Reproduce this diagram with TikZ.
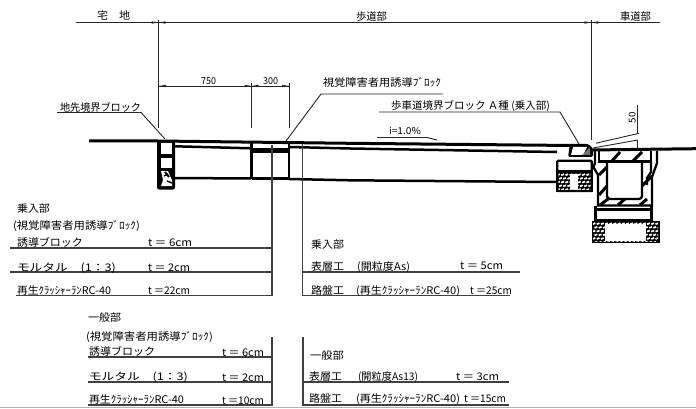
\documentclass[tikz,border=0pt]{standalone}
\usepackage{fontspec}
\usepackage{graphicx}
\setmainfont{Noto Sans CJK JP}
\newcommand{\fitw}[2]{\resizebox{#1pt}{\height}{#2}}
\newcommand{\brickfill}[4]{%
  \fill[black] (#1,#2) rectangle (#3,#4);
  \begin{scope}
  \clip (#1+1.5,#2+1.5) rectangle (#3-1.5,#4-1.5);
  \foreach \yy in {0,1,2,3,4,5}{
    \foreach \xx in {0,1,...,17}{
      \draw[white,line width=1.7pt] ({#1+1+\xx*4.2+mod(\yy,2)*2},{#2+3.2+\yy*3.7}) -- ++(2.8,-1);
    }}
  \end{scope}}
\tikzset{
  x=1pt,y=-1pt,
  thin line/.style={draw=black!85,line width=0.9pt},
  rule line/.style={draw=black!75,line width=1.1pt},
  thick line/.style={draw=black,line width=2.5pt},
  heavy line/.style={draw=black,line width=3pt},
  wall line/.style={draw=black,line width=2.3pt},
  stripe line/.style={draw=black,line width=3pt},
  lbl/.style={anchor=base west,inner sep=0pt,outer sep=0pt,text=black,font=\fontsize{10.5pt}{11pt}\selectfont},
  sml/.style={lbl,font=\fontsize{9.5pt}{10pt}\selectfont},
}
\begin{document}
\begin{tikzpicture}
\useasboundingbox (0,0) rectangle (696,409);
\fill[white] (0,0) rectangle (696,409);

% bottom page edge
\draw[draw=black!30,line width=1pt] (0,407.7) -- (696,407.7);

% top dimension line
\draw[thin line] (76,22.5) -- (660,22.5);
\draw[thin line] (158.5,20) -- (158.5,128);
\draw[thin line] (591.3,20) -- (591.3,140);
\node[lbl] (takuchi) at (97,20) {\fitw{33}{宅\hspace{1em}地}};
\node[lbl] (hodo) at (356,21) {\fitw{31}{歩道部}};
\node[lbl] (shado) at (620,21) {\fitw{31}{車道部}};

% 750 / 300 dimensions
\draw[thin line] (159,86) -- (289,86);
\draw[thin line] (251.5,83) -- (251.5,128);
\draw[thin line] (289,83) -- (289,128);
\node[sml] (d750) at (201,85) {\fitw{15}{750}};
\node[sml] (d300) at (263,85) {\fitw{15}{300}};

% small dimension arrowheads (tip x, y, direction)
\foreach \tx/\ty/\dd in {158.5/22.5/-1, 158.5/22.5/1, 591.3/22.5/-1, 591.3/22.5/1,
                         159/86/1, 251.5/86/-1, 251.5/86/1, 289/86/-1}{
  \fill[black!85] (\tx,\ty) -- (\tx+\dd*7,\ty-1.2) -- (\tx+\dd*7,\ty+1.2) -- cycle;
}

% leaders
\draw[thin line] (57,112.5) -- (141,112.5) -- (165,139);
\node[lbl] (jisaki) at (60,111) {\fitw{81}{地先境界ブロック}};
\draw[thin line] (286,141) -- (321,94) -- (443,94);
\node[lbl] (shikaku) at (323,87) {\fitw{118}{視覚障害者用誘導ﾌﾞﾛｯｸ}};
\draw[thin line] (379,112) -- (560,112) -- (579,144);
\node[lbl] (kyokai) at (391,110) {\fitw{159}{歩車道境界ブロック Ａ種 (乗入部)}};
\draw[thin line] (377,137.5) -- (427,137.5) -- (437,140);
\node[sml] (slope) at (389,135) {\fitw{32}{i=1.0\%}};

% pavement lines
\draw[heavy line] (89,141) -- (158,141) -- (350,143.3) -- (572,145.5);
\draw[thick line] (175,146.3) -- (251,148.3);
\draw[thick line] (289,147) -- (350,148.5) -- (557,152);
\draw[thick line] (175,178) -- (251,178.5);
\draw[thick line] (289,179) -- (350,180.3) -- (556,182);
\draw[heavy line] (590,150) -- (696,148.7);

% boundary block (left)
\fill[black,rounded corners=2pt] (157,141) rectangle (175,189.5);
\fill[white] (161,143.5) rectangle (172,154);
\fill[white] (161,158.5) rectangle (172,168);
\fill[white] (161,171) -- (168,171) -- (170,176) -- (172,180) -- (172,186) -- (161,186) -- (163,180) -- cycle;
\draw[black,line width=2pt] (165,172) -- (169,177);
\draw[black,line width=1.4pt] (164,176) -- (168,174);
\draw[black,line width=1.4pt] (167,181) -- (172,183);

% guide block column
\draw[thick line] (251.5,141.5) -- (251.5,179);
\draw[thick line] (289,141.5) -- (289,179);
\draw[thick line] (251.5,178.7) -- (289,178.7);
\fill[black] (251,148) rectangle (289,153.5);

% table rule verticals
\draw[rule line] (272,145) -- (272,295.8);
\draw[rule line] (302.7,144) -- (302.7,295.5);

% curb
\fill[black,rounded corners=2pt] (570,144) -- (589,144) -- (593,149) -- (593,157) -- (568,157) -- cycle;
\fill[white] (573,147) -- (587,147) -- (583,155) -- (571,155) -- cycle;
\fill[black!55] (582,155) -- (589,148) -- (590,149) -- (590,155) -- cycle;
% curb base
\brickfill{556}{172}{593}{192}
\fill[white] (570,174) rectangle (578,190);
\draw[wall line,rounded corners=1pt] (557.2,160.7) rectangle (591.8,191);
\draw[wall line] (557,171.5) -- (592,171.5);

% culvert
\draw[wall line] (595,151) -- (595,163) -- (593.5,167) -- (598,175) -- (598,205.5) -- (652,205.5) -- (652,177) -- (657,163) -- (657,151);
\draw[wall line] (599,151) -- (599,161.5) -- (651,161.5) -- (651,151);
\draw[wall line,rounded corners=3pt] (607,161.5) -- (607,199) -- (642,199) -- (642,161.5);
\draw[wall line] (651,161.5) -- (651,172) -- (647,178) -- (647,185);
\foreach \a/\b/\c/\d in {
  612/161/620/152, 633/161/642/152,
  599/175/607/167, 599/195/607/186,
  600/205/608/199, 618/205/625/199, 640/205/647/199,
  642/186/652/176}{
  \draw[stripe line] (\a,\b) -- (\c,\d);
}
% base slab
\draw[wall line] (595.5,206) -- (595.5,220.5) -- (651.5,220.5) -- (651.5,206);
\draw[wall line] (595.5,209.5) -- (651.5,209.5);
% foundation
\brickfill{591.5}{221}{659.5}{243}
\fill[white] (605,223.5) rectangle (645.5,240.5);

% 50 dimension
\draw[thin line] (596,143.2) -- (639,133.3);
\draw[thin line] (593,148) -- (638,140);
\draw[thin line] (637,105) -- (637,134);
\draw[thin line] (637,140) -- (637,150);
\node[sml,rotate=90] (d50) at (635.5,123.5) {\fitw{11}{50}};

% table 1 (left upper)
\draw[rule line] (10,248) -- (272,248);
\draw[rule line] (10,272) -- (272,272);
\draw[rule line] (16,295.5) -- (272,295.5);
\node[lbl] (a1) at (17,212) {\fitw{33}{乗入部}};
\node[lbl] (a2) at (13,229) {\fitw{127}{(視覚障害者用誘導ﾌﾞﾛｯｸ)}};
\node[lbl] (a3) at (17,246) {\fitw{66}{誘導ブロック}};
\node[lbl] (a4) at (148,246) {\fitw{44}{t ＝ 6cm}};
\node[lbl] (a5) at (17,271) {\fitw{99}{モルタル　(1：3)}};
\node[lbl] (a6) at (148,271) {\fitw{42}{t ＝ 2cm}};
\node[lbl] (a7) at (17,294) {\fitw{94}{再生ｸﾗｯｼｬｰﾗﾝRC-40}};
\node[lbl] (a8) at (148,294) {\fitw{42}{t ＝22cm}};

% table 2 (left lower)
\draw[rule line] (272,337) -- (272,406);
\draw[rule line] (88,357) -- (272,357);
\draw[rule line] (88,382) -- (272,382);
\draw[rule line] (88,405) -- (272,405);
\node[lbl] (b1) at (88,321) {\fitw{33}{一般部}};
\node[lbl] (b2) at (86,340) {\fitw{127}{(視覚障害者用誘導ﾌﾞﾛｯｸ)}};
\node[lbl] (b3) at (89,355.5) {\fitw{66}{誘導ブロック}};
\node[lbl] (b4) at (222,356) {\fitw{42}{t ＝ 6cm}};
\node[lbl] (b5) at (89,380.5) {\fitw{99}{モルタル　(1：3)}};
\node[lbl] (b6) at (222,381) {\fitw{42}{t ＝ 2cm}};
\node[lbl] (b7) at (89,403.5) {\fitw{95}{再生ｸﾗｯｼｬｰﾗﾝRC-40}};
\node[lbl] (b8) at (222,404) {\fitw{42}{t ＝10cm}};

% table 3 (right upper)
\draw[rule line] (303,272) -- (520,272);
\draw[rule line] (303,295.3) -- (510,295.3);
\node[lbl] (c1) at (311,248) {\fitw{33}{乗入部}};
\node[lbl] (c2) at (311,270) {\fitw{33}{表層工}};
\node[lbl] (c3) at (357,270) {\fitw{53}{(開粒度As)}};
\node[lbl] (c4) at (460,269.5) {\fitw{43}{t ＝ 5cm}};
\node[lbl] (c5) at (311,294) {\fitw{33}{路盤工}};
\node[lbl] (c6) at (356,294) {\fitw{104}{(再生ｸﾗｯｼｬｰﾗﾝRC-40)}};
\node[lbl] (c7) at (470,294) {\fitw{42}{t ＝25cm}};

% table 4 (right lower)
\draw[rule line] (303,337) -- (303,406);
\draw[rule line] (303,382) -- (509,382);
\draw[rule line] (303,405) -- (509,405);
\node[lbl] (e1) at (310,359) {\fitw{34}{一般部}};
\node[lbl] (e2) at (309,380) {\fitw{33}{表層工}};
\node[lbl] (e3) at (358,380) {\fitw{60}{(開粒度As13)}};
\node[lbl] (e4) at (456,380) {\fitw{43}{t ＝ 3cm}};
\node[lbl] (e5) at (309,402.5) {\fitw{33}{路盤工}};
\node[lbl] (e6) at (356,402.5) {\fitw{104}{(再生ｸﾗｯｼｬｰﾗﾝRC-40)}};
\node[lbl] (e7) at (464,402.5) {\fitw{42}{t ＝15cm}};
\end{tikzpicture}
\end{document}
